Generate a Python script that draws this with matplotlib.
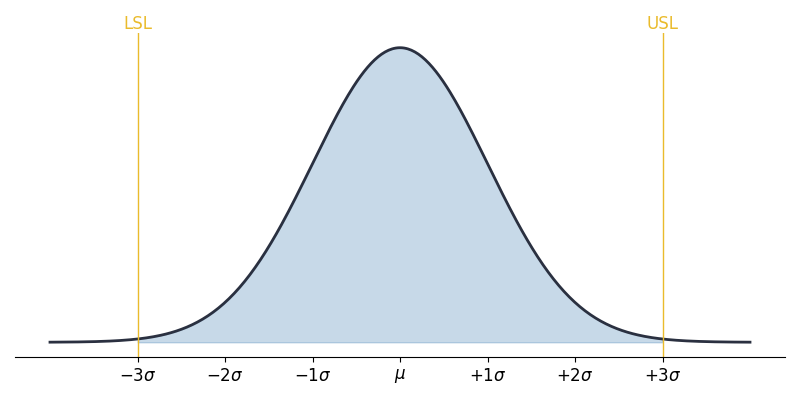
import numpy as np
import matplotlib.pyplot as plt

# data
x = np.linspace(-4, 4, 400)
pdf = np.exp(-x**2 / 2) / np.sqrt(2 * np.pi)
tick_pos = [-3, -2, -1, 0, 1, 2, 3]
tick_labels = [r'$-3\sigma$', r'$-2\sigma$', r'$-1\sigma$', r'$\mu$',
               r'$+1\sigma$', r'$+2\sigma$', r'$+3\sigma$']
lsl, usl = -3, 3

fig = plt.figure(figsize=(8, 4), dpi=100)
ax = fig.add_axes([15 / 800, 43 / 400, 770 / 800, 324 / 400])

mask = (x >= lsl) & (x <= usl)
ax.fill_between(x[mask], pdf[mask], color='steelblue', alpha=0.3)
ax.plot(x, pdf, color='#2a3040', lw=2)

gold = '#eabb2c'
for val, name in [(lsl, 'LSL'), (usl, 'USL')]:
    ax.axvline(val, color=gold, lw=1)
    ax.text(val, 0.999, name, color=gold, fontsize=12, ha='center', va='bottom',
            transform=ax.get_xaxis_transform())

ax.set_xticks(tick_pos)
ax.set_xticklabels(tick_labels, fontsize=12)
ax.set_yticks([])
for s in ['top', 'right', 'left']:
    ax.spines[s].set_visible(False)

fig.savefig('out.png')
